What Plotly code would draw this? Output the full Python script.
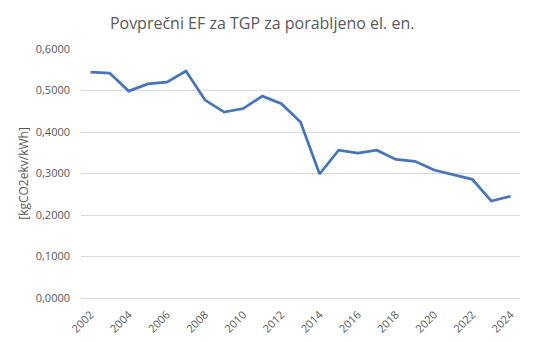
import plotly.graph_objects as go

years = list(range(2002, 2025))
ef_values = [0.5444, 0.5420, 0.4985, 0.5160, 0.5200, 0.5470, 0.4770, 0.4480,
             0.4565, 0.4865, 0.4680, 0.4240, 0.2988, 0.3560, 0.3490, 0.3560,
             0.3340, 0.3295, 0.3085, 0.2980, 0.2860, 0.2336, 0.2450]
y_ticks = [0.0, 0.1, 0.2, 0.3, 0.4, 0.5, 0.6]
x_ticks = list(range(2002, 2025, 2))

title_text = "Povprečni EF za TGP za porabljeno el. en."
y_title = "[kgCO2ekv/kWh]"

font_family = "Open Sans, Lato, sans-serif"

fig = go.Figure(
    go.Scatter(
        x=years,
        y=ef_values,
        mode="lines",
        line=dict(color="#4675bd", width=2.75),
        hoverinfo="x+y",
    )
)

fig.update_layout(
    width=535,
    height=342,
    margin=dict(l=81, r=15, t=49, b=44),
    paper_bgcolor="white",
    plot_bgcolor="white",
    separators=", ",
    showlegend=False,
    title=dict(
        text=title_text,
        x=0.49,
        xanchor="center",
        y=0.932,
        yanchor="middle",
        font=dict(family=font_family, size=16, color="#595959"),
    ),
    font=dict(family=font_family, color="#595959", size=11),
)

fig.update_xaxes(
    range=[2001.5, 2024.5],
    tickmode="array",
    tickvals=x_ticks,
    ticktext=[str(y) for y in x_ticks],
    tickangle=-45,
    showgrid=False,
    showline=True,
    linecolor="#d9d9d9",
    linewidth=1,
    ticks="",
    zeroline=False,
    automargin=False,
    ticklabelstandoff=5,
    tickfont=dict(size=11, color="#595959"),
)

fig.update_yaxes(
    range=[0, 0.6],
    tickmode="array",
    tickvals=y_ticks,
    tickformat=".4f",
    showgrid=True,
    gridcolor="#d9d9d9",
    gridwidth=1,
    zeroline=False,
    showline=False,
    ticks="",
    automargin=False,
    ticklabelstandoff=10,
    tickfont=dict(size=11, color="#595959"),
    title=dict(text=y_title, font=dict(size=12, color="#595959"), standoff=4),
)

fig.write_html("out.html")
